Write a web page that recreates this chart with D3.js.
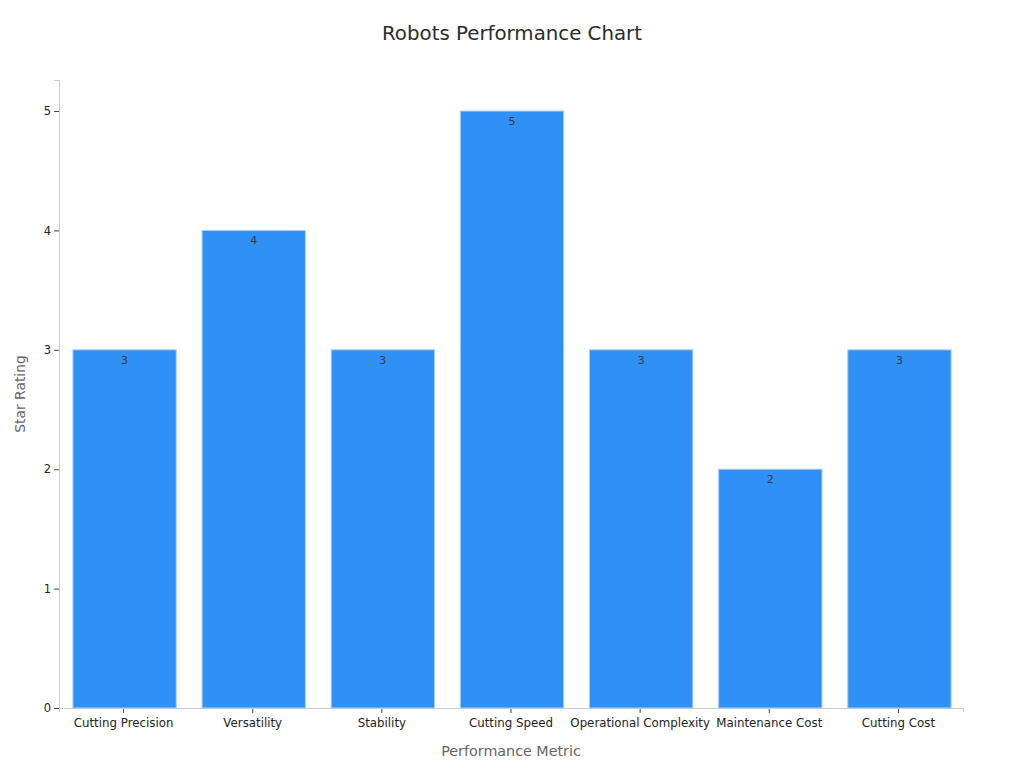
<!DOCTYPE html>
<html>
<head>
<meta charset="utf-8">
<script src="https://cdn.jsdelivr.net/npm/d3@7"></script>
<style>
  body { margin: 0; background: #fff; }
  text { font-family: "DejaVu Sans", sans-serif; }
</style>
</head>
<body>
<div id="chart-area"></div>
<script>
// chart data
const metrics = ["Cutting Precision", "Versatility", "Stability", "Cutting Speed",
  "Operational Complexity", "Maintenance Cost", "Cutting Cost"]
const ratings = [3, 4, 3, 5, 3, 2, 3]
const yTicks = [0, 1, 2, 3, 4, 5]

const MARGIN = { LEFT: 59, RIGHT: 61, TOP: 80, BOTTOM: 60 }
const WIDTH = 1024 - MARGIN.LEFT - MARGIN.RIGHT
const HEIGHT = 768 - MARGIN.TOP - MARGIN.BOTTOM

const svg = d3.select("#chart-area").append("svg")
  .attr("width", 1024)
  .attr("height", 768)

const g = svg.append("g")
  .attr("transform", `translate(${MARGIN.LEFT}, ${MARGIN.TOP})`)

// title
svg.append("text")
  .attr("x", 512)
  .attr("y", 40)
  .attr("font-size", "19.8px")
  .attr("text-anchor", "middle")
  .attr("fill", "#2b2b2b")
  .text("Robots Performance Chart")

// X label
g.append("text")
  .attr("x", WIDTH / 2)
  .attr("y", HEIGHT + 48)
  .attr("font-size", "14.3px")
  .attr("text-anchor", "middle")
  .attr("fill", "#666")
  .text("Performance Metric")

// Y label
g.append("text")
  .attr("x", -314)
  .attr("y", -34)
  .attr("font-size", "13.9px")
  .attr("text-anchor", "middle")
  .attr("transform", "rotate(-90)")
  .attr("fill", "#666")
  .text("Star Rating")

const x = d3.scaleBand()
  .domain(metrics)
  .range([0, WIDTH])
  .paddingInner(0.2)
  .paddingOuter(0.1)

const y = d3.scaleLinear()
  .domain([0, 5.26])
  .range([HEIGHT, 0])

const xAxisCall = d3.axisBottom(x).tickSizeOuter(0).tickSize(4)
const xAxis = g.append("g")
  .attr("transform", `translate(0, ${HEIGHT})`)
  .call(xAxisCall)
xAxis.select(".domain").attr("stroke", "#ccc")
xAxis.selectAll(".tick line").attr("stroke", "#444").attr("transform", "translate(0,1)")
xAxis.selectAll("text")
  .attr("font-size", "11.8px")
  .attr("fill", "#222")
  .attr("y", 11)

const yAxisCall = d3.axisLeft(y).tickValues(yTicks).tickFormat(d3.format("d"))
  .tickSizeOuter(0).tickSize(5)
const yAxis = g.append("g").call(yAxisCall)
yAxis.select(".domain").attr("stroke", "#ccc")
yAxis.selectAll(".tick line").attr("stroke", "#444")
yAxis.selectAll("text")
  .attr("font-size", "11.5px")
  .attr("fill", "#222")
  .attr("x", -8)

const data = metrics.map((m, i) => ({ metric: m, rating: ratings[i] }))

g.selectAll("rect.bar")
  .data(data)
  .enter().append("rect")
  .attr("class", "bar")
  .attr("x", d => x(d.metric) + 1)
  .attr("y", d => y(d.rating))
  .attr("width", x.bandwidth())
  .attr("height", d => HEIGHT - y(d.rating))
  .attr("fill", "#2f91f6")
  .attr("stroke", "#a9cdf5")
  .attr("stroke-width", 1)

g.selectAll("text.val")
  .data(data)
  .enter().append("text")
  .attr("class", "val")
  .attr("x", d => x(d.metric) + 1 + x.bandwidth() / 2)
  .attr("y", d => y(d.rating) + 14)
  .attr("font-size", "11px")
  .attr("text-anchor", "middle")
  .attr("fill", "#3a3a3a")
  .text(d => d.rating)
</script>
</body>
</html>
